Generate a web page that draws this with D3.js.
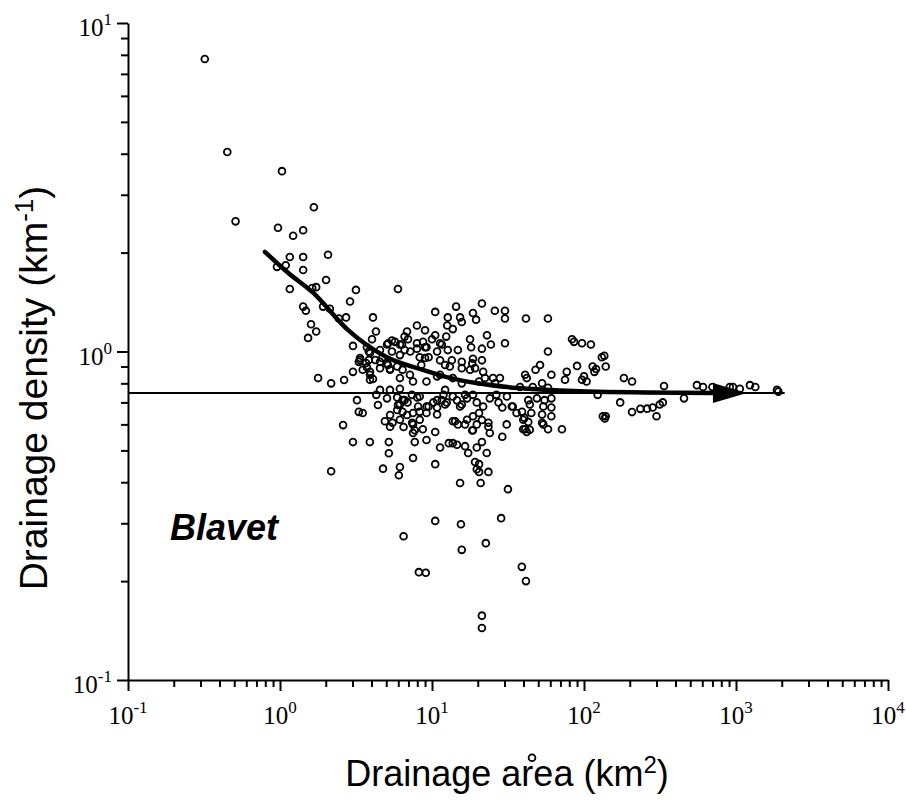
<!DOCTYPE html>
<html><head><meta charset="utf-8">
<script src="https://cdn.jsdelivr.net/npm/d3@7"></script>
<style>body{margin:0;background:#fff}</style>
</head><body><svg id="c" width="906" height="800"></svg>
<script>
// Scatter: drainage area (km2) and drainage density (km-1)
const area = [
0.32,0.45,1.03,0.51,0.97,1.22,1.67,1.42,1.16,1.42,
2.07,0.955,1.09,1.42,2.01,1.16,1.63,1.73,3.16,5.97,
1.42,1.48,1.92,2.13,2.89,2.72,2.44,4.09,1.60,1.73,
1.53,4.28,3.02,10.5,14.4,21.3,25.9,30.2,30.2,41.5,
12.7,15.3,15.7,18.6,19.5,7.96,9.0,6.85,12.6,13.7,
10.5,23.0,17.8,18.1,21.3,24.4,30.2,12.4,3.73,4.03,
5.14,5.71,6.35,6.95,7.96,8.73,9.2,10.0,11.6,14.8,
12.7,10.8,9.5,8.3,7.2,6.15,5.45,4.55,3.91,3.36,
3.68,3.3,4.55,5.06,5.3,3.91,4.09,3.02,2.64,2.17,
1.78,6.15,7.5,9.2,11.3,13.7,15.7,13.1,15.7,19.2,
18.4,21.7,25.2,28.0,20.4,37.9,42,3.21,3.3,3.5,
2.6,4.41,4.3,4.55,5.06,5.97,5.9,6.4,6.4,7.38,
8.3,6.85,7.5,8.3,9.2,10.2,10.8,11.6,11.9,12.5,
13.7,14.6,15.3,17.0,18.6,19.7,21.7,24.0,26.5,31.1,
34.0,39.1,40.5,42,39.8,20.4,18.6,21.3,23.5,24,
18.6,17,13.7,14.8,16.5,19.7,31,29.0,13.7,14.6,
16.5,17.3,19.7,21.3,22.9,19.2,20.4,23.5,20.4,11.3,
10.5,9.2,7.7,7.5,10.5,6.15,6.05,4.76,5.2,5.2,
3.9,3.02,2.17,4.9,5.5,6.15,6.5,7.4,7.7,8.7,
7.5,8.3,5.3,19.7,15.3,20.9,31.6,10.5,15.5,28.5,
6.5,15.7,22.6,8.2,9.1,39,41.5,21.3,21.3,57.9,
13.5,15.7,18.6,21.3,17.8,22.3,26,57.9,83.4,86,
97,111,131,90,77,75,100,97,104,114,
120,51.4,48,41,61,53,46,58,43,55,
61,49,54,61,44,45,53,61,43,53,
71.6,133,123,23.5,14.2,15.7,12.2,16.5,27.4,33.5,
36,29,136,139,117,183,207,336,553,607,
700,955,1235,1340,1860,1900,455,173,330,315,
283,260,235,207,300,139,137,54,58,41,
910,1060,6.6,5.45,5.06,6.15,6.6,7.96,9.0,11.3,
9.0,8.5,11.3,12.2,3.84,3.36,3.84,4.24,4.7,5.13,
5.9,6.4,7.16,10.8,4.55,5.29,3.5,3.91,3.91,3.73,
5.29,6.15,5.9,6.6,8.0,6.15,6.9,8.1,9.5,10.8,
12.2,10.8,9.2,5.3,7.5,12.9,18.4,39.8,44,45.5
];
const density = [
7.77,4.05,3.54,2.49,2.38,2.25,2.75,2.34,1.94,1.94,
1.97,1.81,1.83,1.77,1.65,1.55,1.56,1.57,1.54,1.55,
1.37,1.33,1.37,1.35,1.42,1.27,1.26,1.27,1.21,1.15,
1.10,1.15,1.04,1.32,1.37,1.40,1.33,1.33,1.26,1.26,
1.27,1.27,1.23,1.31,1.25,1.20,1.16,1.15,1.20,1.17,
1.12,1.12,1.09,1.03,1.02,1.05,1.06,1.11,1.03,1.09,
1.06,1.07,1.05,1.09,1.06,1.07,1.03,1.09,1.05,1.01,
1.01,1.00,0.96,0.96,1.00,0.975,1.00,1.01,0.99,0.955,
0.923,0.93,0.93,0.92,0.885,0.867,0.825,0.867,0.819,0.80,
0.83,0.83,0.81,0.81,0.85,0.83,0.80,0.90,0.89,0.89,
0.92,0.867,0.83,0.83,0.81,0.78,0.83,0.711,0.655,0.65,
0.597,0.687,0.738,0.764,0.72,0.687,0.664,0.711,0.655,0.738,
0.73,0.641,0.65,0.655,0.68,0.70,0.675,0.711,0.738,0.70,
0.73,0.71,0.68,0.72,0.738,0.70,0.68,0.72,0.738,0.73,
0.68,0.655,0.628,0.569,0.58,0.65,0.635,0.619,0.607,0.565,
0.576,0.62,0.613,0.60,0.60,0.60,0.60,0.55,0.526,0.52,
0.515,0.491,0.51,0.53,0.491,0.461,0.454,0.43,0.43,0.51,
0.569,0.538,0.53,0.474,0.454,0.445,0.42,0.44,0.49,0.53,
0.53,0.53,0.432,0.613,0.607,0.62,0.589,0.607,0.576,0.58,
0.565,0.62,0.641,0.438,0.398,0.398,0.381,0.305,0.298,0.311,
0.274,0.249,0.261,0.213,0.212,0.221,0.20,0.157,0.144,1.26,
0.94,0.93,0.95,0.94,0.88,0.83,0.80,1.0,1.09,1.07,
1.06,1.05,0.96,0.904,0.867,0.82,0.84,0.82,0.81,0.90,
0.885,0.91,0.88,0.85,0.85,0.80,0.78,0.775,0.711,0.711,
0.72,0.72,0.68,0.675,0.69,0.65,0.643,0.635,0.61,0.607,
0.58,0.635,0.738,0.59,0.613,0.69,0.69,0.738,0.70,0.68,
0.65,0.675,0.97,0.90,0.867,0.83,0.81,0.785,0.79,0.78,
0.78,0.78,0.79,0.78,0.764,0.755,0.72,0.70,0.70,0.69,
0.675,0.67,0.669,0.654,0.635,0.635,0.625,0.60,0.58,0.58,
0.78,0.77,1.11,1.08,1.05,1.05,1.01,1.02,1.03,1.06,
0.955,0.91,0.94,0.91,1.00,0.942,0.942,0.942,0.955,0.91,
0.90,0.88,0.85,0.84,0.89,0.88,0.88,0.85,0.82,0.895,
0.764,0.77,0.725,0.711,0.725,0.69,0.70,0.68,0.68,0.711,
0.764,0.643,0.65,0.59,0.60,0.526,0.575,0.62,0.578,0.058
];
// Fitted trend curve (thick, with arrowhead)
const curveArea    = [0.796,1.14,1.65,2.76,5.06,8.7,12.5,20,36.7,55.5,123,1180];
const curveDensity = [2.01,1.73,1.51,1.17,0.96,0.879,0.836,0.80,0.774,0.765,0.754,0.748];
// Asymptotic density line
const asymptoteDensity = 0.748;
const asymptoteArea = [0.1, 2090];
const xTickExponents = [-1,0,1,2,3,4];
const yTickExponents = [-1,0,1];
const basinName = "Blavet";

const svg = d3.select("#c");
const x = d3.scaleLog().domain([0.1,1e4]).range([128,888]);
const y = d3.scaleLog().domain([0.1,10]).range([680,23]);
const isPow = v => Math.abs(Math.log10(v) - Math.round(Math.log10(v))) < 1e-9;

const serif = "'Liberation Serif','Times New Roman',serif";
const sans = "'Liberation Sans',Arial,Helvetica,sans-serif";

// minor ticks
const xMinor = x.ticks().filter(v => !isPow(v));
const yMinor = y.ticks().filter(v => !isPow(v));
const gx = svg.append("g").attr("transform","translate(0,680)");
gx.call(d3.axisBottom(x).tickValues(xMinor).tickSize(7).tickFormat(""));
gx.call(g=>g.select(".domain").remove());
const gx2 = svg.append("g").attr("transform","translate(0,680)");
gx2.call(d3.axisBottom(x).tickValues(xTickExponents.map(e=>Math.pow(10,e))).tickSize(11).tickSizeOuter(0).tickFormat(""));
const gy = svg.append("g").attr("transform","translate(128,0)");
gy.call(d3.axisLeft(y).tickValues(yMinor).tickSize(7).tickFormat(""));
gy.call(g=>g.select(".domain").remove());
const gy2 = svg.append("g").attr("transform","translate(128,0)");
gy2.call(d3.axisLeft(y).tickValues(yTickExponents.map(e=>Math.pow(10,e))).tickSize(11).tickSizeOuter(0).tickFormat(""));
svg.selectAll(".tick line, .domain").attr("stroke","#000").attr("stroke-width",2);

// tick labels
xTickExponents.forEach(e=>{
  const t = svg.append("text").attr("x", x(Math.pow(10,e))).attr("y",724)
    .attr("text-anchor","middle").attr("font-family",serif).attr("font-size",25).attr("fill","#000");
  t.append("tspan").text("10");
  t.append("tspan").attr("dy",-11).attr("font-size",17).text(String(e));
});
yTickExponents.forEach(e=>{
  const t = svg.append("text").attr("x",112).attr("y", y(Math.pow(10,e))+13)
    .attr("text-anchor","end").attr("font-family",serif).attr("font-size",25).attr("fill","#000");
  t.append("tspan").text("10");
  t.append("tspan").attr("dy",-11).attr("font-size",17).text(String(e));
});

// asymptote line
svg.append("line").attr("x1",x(asymptoteArea[0])).attr("x2",x(asymptoteArea[1]))
  .attr("y1",y(asymptoteDensity)).attr("y2",y(asymptoteDensity))
  .attr("stroke","#000").attr("stroke-width",2);

// points
const pts = area.map((a,i)=>({a, d: density[i]}));
svg.append("g").selectAll("circle").data(pts).join("circle")
  .attr("cx",p=>x(p.a)).attr("cy",p=>y(p.d)).attr("r",3.4)
  .attr("fill","none").attr("stroke","#000").attr("stroke-width",1.8);

// trend curve
const cpts = curveArea.map((a,i)=>[x(a), y(curveDensity[i])]);
const tip = cpts[cpts.length-1];
const headLen = 34, headHalf = 10;
const linePts = cpts.slice(0,-1).concat([[tip[0]-headLen+2, tip[1]]]);
svg.append("path").attr("d", d3.line().curve(d3.curveMonotoneX)(linePts))
  .attr("fill","none").attr("stroke","#000").attr("stroke-width",4.5).attr("stroke-linecap","round");
svg.append("path")
  .attr("d", `M${tip[0]},${tip[1]} L${tip[0]-headLen},${tip[1]-headHalf} L${tip[0]-headLen},${tip[1]+headHalf} Z`)
  .attr("fill","#000");

// basin name
svg.append("text").attr("x",170).attr("y",540).attr("font-family",sans)
  .attr("font-weight","bold").attr("font-style","italic").attr("font-size",36).text(basinName);

// axis titles
const xt = svg.append("text").attr("x",507).attr("y",786).attr("text-anchor","middle")
  .attr("font-family",sans).attr("font-size",36);
xt.append("tspan").text("Drainage area (km");
xt.append("tspan").attr("dy",-13).attr("font-size",24).text("2");
xt.append("tspan").attr("dy",13).text(")");

const yt = svg.append("text").attr("transform","translate(47,388) rotate(-90)").attr("text-anchor","middle")
  .attr("font-family",sans).attr("font-size",39);
yt.append("tspan").text("Drainage density (km");
yt.append("tspan").attr("dy",-14).attr("font-size",26).text("-1");
yt.append("tspan").attr("dy",14).text(")");
</script>
</body></html>
